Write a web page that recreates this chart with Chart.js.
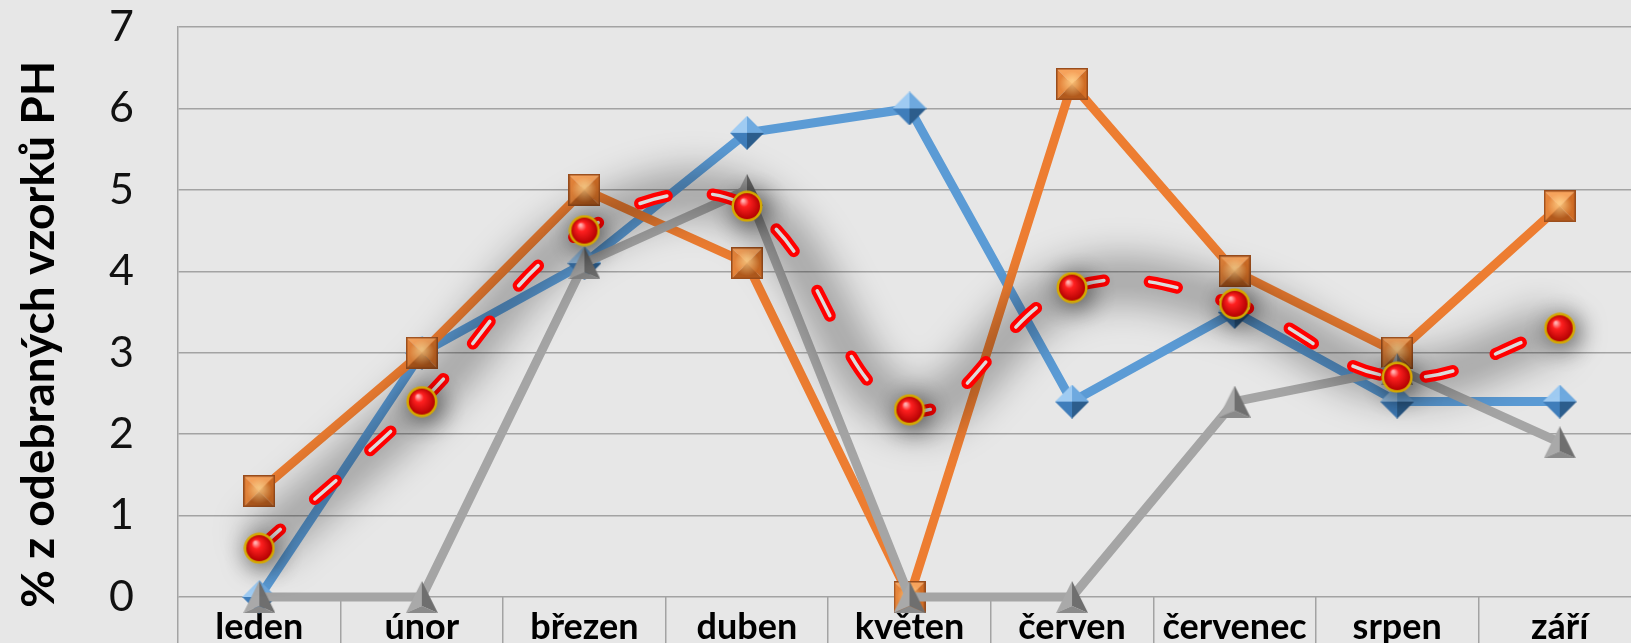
<!DOCTYPE html>
<html>
<head>
<meta charset="utf-8">
<script src="https://cdn.jsdelivr.net/npm/chart.js@4"></script>
<style>
	html, body { margin: 0; padding: 0; background: #e7e7e7; overflow: hidden; }
</style>
</head>
<body>
<canvas id="phChart" width="1666" height="643"></canvas>

<script>
	// --- data ---
	var months = [ 'leden', 'únor', 'březen', 'duben', 'květen', 'červen', 'červenec', 'srpen', 'září' ];
	var blueValues = [ 0, 3.0, 4.1, 5.7, 6.0, 2.4, 3.5, 2.4, 2.4 ];
	var orangeValues = [ 1.3, 3.0, 5.0, 4.1, 0, 6.3, 4.0, 3.0, 4.8 ];
	var grayValues = [ 0, 0, 4.1, 5.0, 0, 0, 2.4, 2.8, 1.9 ];
	var redValues = [ 0.6, 2.4, 4.5, 4.8, 2.3, 3.8, 3.6, 2.7, 3.3 ];
	var yMin = 0, yMax = 7, yStep = 1;
	// trailing spaces push the rotated title a bit down, as in the original
	var axisTitle = '% z odebraných vzorků PH    ';

	// --- 3D-looking markers drawn on small canvases ---
	function facet(g, pts, color) {
		g.beginPath();
		g.moveTo(pts[0][0], pts[0][1]);
		for (var i = 1; i < pts.length; i++) g.lineTo(pts[i][0], pts[i][1]);
		g.closePath();
		g.fillStyle = color;
		g.fill();
	}

	function makeDiamond(s) {
		var c = document.createElement('canvas');
		c.width = c.height = s;
		var g = c.getContext('2d'), h = s / 2;
		facet(g, [ [h, 0], [h, h], [0, h] ], '#9fcbf2');
		facet(g, [ [h, 0], [s, h], [h, h] ], '#6ea9df');
		facet(g, [ [0, h], [h, h], [h, s] ], '#3f7dba');
		facet(g, [ [h, h], [s, h], [h, s] ], '#2c5d8c');
		return c;
	}

	function makeSquare(s) {
		var c = document.createElement('canvas');
		c.width = c.height = s;
		var g = c.getContext('2d'), h = s / 2;
		facet(g, [ [0, 0], [s, 0], [h, h] ], '#f6a35c');
		facet(g, [ [0, 0], [h, h], [0, s] ], '#e5843a');
		facet(g, [ [s, 0], [s, s], [h, h] ], '#d06d25');
		facet(g, [ [0, s], [h, h], [s, s] ], '#b25a1d');
		var grad = g.createRadialGradient(h, h * 0.8, 1, h, h, h * 0.8);
		grad.addColorStop(0, 'rgba(255,210,140,0.8)');
		grad.addColorStop(1, 'rgba(255,210,140,0)');
		g.fillStyle = grad;
		g.fillRect(0, 0, s, s);
		g.strokeStyle = '#9a4d1c';
		g.lineWidth = 1.5;
		g.strokeRect(0.75, 0.75, s - 1.5, s - 1.5);
		return c;
	}

	function makeTriangle(s) {
		var c = document.createElement('canvas');
		c.width = c.height = s;
		var g = c.getContext('2d'), h = s / 2;
		var mid = [h, s * 0.78];
		facet(g, [ [h, 0], [0, s], mid ], '#a9a9a9');
		facet(g, [ [h, 0], mid, [s, s] ], '#6f6f6f');
		facet(g, [ [0, s], mid, [s, s] ], '#8a8a8a');
		return c;
	}

	function makeBall(s) {
		var c = document.createElement('canvas');
		c.width = c.height = s;
		var g = c.getContext('2d'), h = s / 2;
		g.beginPath();
		g.arc(h, h, h - 0.5, 0, Math.PI * 2);
		g.fillStyle = '#d4a800';
		g.fill();
		var grad = g.createRadialGradient(h * 0.75, h * 0.65, 1, h, h, h - 2.5);
		grad.addColorStop(0, '#ffb0b0');
		grad.addColorStop(0.3, '#ff2020');
		grad.addColorStop(1, '#b00000');
		g.beginPath();
		g.arc(h, h, h - 3, 0, Math.PI * 2);
		g.fillStyle = grad;
		g.fill();
		return c;
	}

	// blur / shadow for the red series halo
	var shadowPlugin = {
		id: 'seriesShadow',
		beforeDatasetDraw: function (chart, args) {
			var ds = chart.data.datasets[args.index];
			if (ds.blur || ds.shadowBlur) {
				var ctx = chart.ctx;
				ctx.save();
				if (ds.blur) ctx.filter = 'blur(' + ds.blur + 'px)';
				if (ds.shadowBlur) {
					ctx.shadowColor = 'rgba(0, 0, 0, 0.7)';
					ctx.shadowBlur = ds.shadowBlur;
					ctx.shadowOffsetX = 4;
					ctx.shadowOffsetY = 4;
				}
			}
		},
		afterDatasetDraw: function (chart, args) {
			var ds = chart.data.datasets[args.index];
			if (ds.blur || ds.shadowBlur) chart.ctx.restore();
		}
	};

	var gridColor = '#a3a3a3';
	var dash = [ 28, 46 ];

	var ctx = document.getElementById('phChart').getContext('2d');
	new Chart(ctx, {
		type: 'line',
		data: {
			labels: months,
			datasets: [ {
				data: blueValues,
				borderColor: '#5b9bd5',
				borderWidth: 9,
				pointStyle: makeDiamond(34),
				pointRadius: 16,
				order: 6,
				clip: false
			}, {
				data: orangeValues,
				borderColor: '#ed7d31',
				borderWidth: 9,
				pointStyle: makeSquare(32),
				pointRadius: 16,
				order: 5,
				clip: false
			}, {
				data: grayValues,
				borderColor: '#a5a5a5',
				borderWidth: 9,
				pointStyle: makeTriangle(32),
				pointRadius: 16,
				order: 4,
				clip: false
			}, {
				// dark soft halo under the red series
				data: redValues,
				borderColor: 'rgba(0, 0, 0, 0.3)',
				borderWidth: 46,
				tension: 0.4,
				pointRadius: 0,
				blur: 18,
				order: 3.5,
				clip: false
			}, {
				// outer red part of the double dashed line
				data: redValues,
				borderColor: '#ff0000',
				borderWidth: 12,
				borderDash: dash,
				borderCapStyle: 'round',
				tension: 0.4,
				pointRadius: 0,
				order: 3,
				clip: false
			}, {
				// light inner stripe
				data: redValues,
				borderColor: '#dcdcdc',
				borderWidth: 3.5,
				borderDash: dash,
				borderCapStyle: 'round',
				tension: 0.4,
				pointRadius: 0,
				order: 2,
				clip: false
			}, {
				data: redValues,
				showLine: false,
				pointStyle: makeBall(32),
				pointRadius: 16,
				shadowBlur: 26,
				order: 1,
				clip: false
			} ]
		},
		options: {
			responsive: false,
			animation: false,
			layout: { padding: { top: 27, right: 1, left: 0, bottom: 0 } },
			scales: {
				x: {
					offset: true,
					border: { display: false },
					grid: {
						offset: true,
						drawOnChartArea: false,
						drawTicks: true,
						tickLength: 46,
						color: gridColor,
						lineWidth: 1.5
					},
					ticks: {
						color: '#000',
						padding: -37,
						maxRotation: 0,
						autoSkip: false,
						font: { family: 'Lato', size: 36, weight: 'bold' }
					},
					afterFit: function (scale) { scale.height = 46; }
				},
				y: {
					min: yMin,
					max: yMax,
					border: { display: true, color: gridColor, width: 1.5 },
					grid: { color: gridColor, lineWidth: 1.5, drawTicks: false },
					ticks: {
						stepSize: yStep,
						color: '#111',
						padding: 44,
						font: { family: 'Lato', size: 43 }
					},
					title: {
						display: true,
						text: axisTitle,
						color: '#000',
						padding: { top: 12, bottom: 0 },
						font: { family: 'Lato', size: 46, weight: 'bold' }
					},
					afterFit: function (scale) {
						scale.width = 178;
						// let the top/bottom tick labels overhang the plot
						scale.paddingTop = 0;
						scale.paddingBottom = 0;
					}
				}
			},
			plugins: {
				legend: { display: false },
				tooltip: { enabled: false }
			}
		},
		plugins: [ shadowPlugin ]
	});
</script>
</body>
</html>
